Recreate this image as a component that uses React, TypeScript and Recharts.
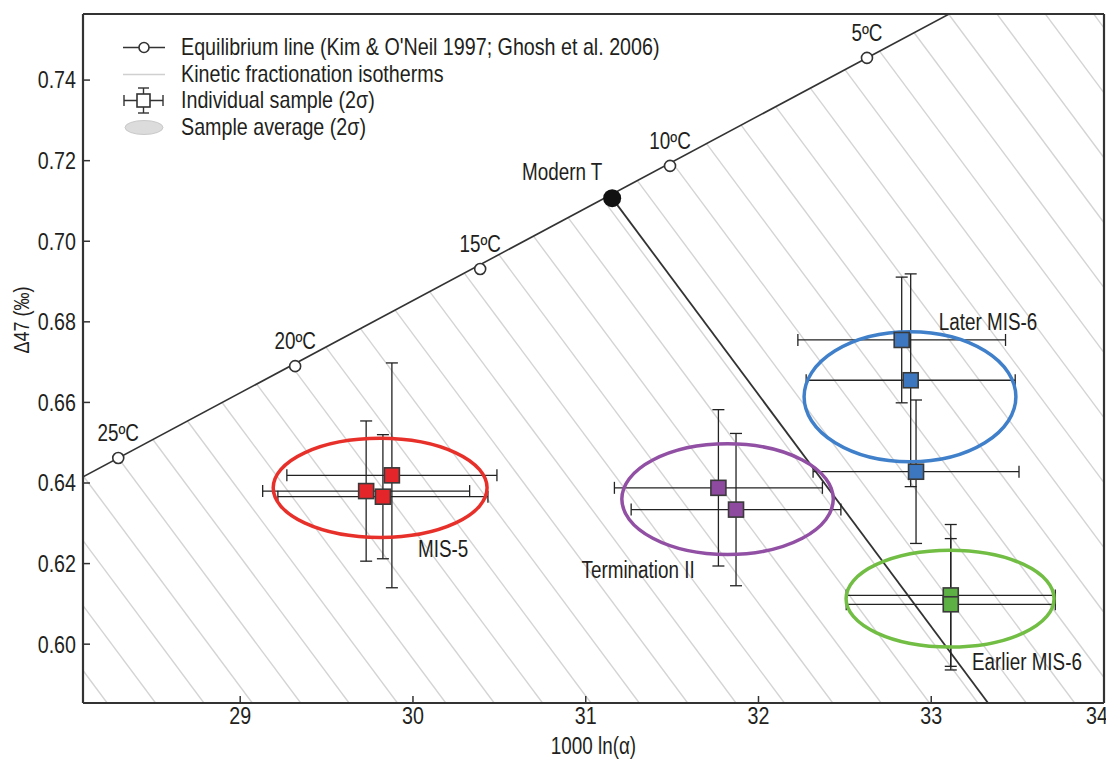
import {
  ComposedChart, Scatter, XAxis, YAxis, ReferenceLine, ErrorBar, Legend,
} from "recharts";

const FONT = '"Liberation Sans", Arial, Helvetica, sans-serif';
const NARROW = 0.82; // the original uses a condensed Helvetica
const INK = "#231f20";

// axis ranges
const X_MIN = 28.09;
const X_MAX = 34.0;
const Y_MIN = 0.5854;
const Y_MAX = 0.7564;

const xTicks = [29, 30, 31, 32, 33, 34];
const yTicks = [0.6, 0.62, 0.64, 0.66, 0.68, 0.7, 0.72, 0.74];

// equilibrium line (Kim & O'Neil 1997; Ghosh et al. 2006)
const equilibriumPoints = [
  { x: 28.294, y: 0.6462, label: "25ºC" },
  { x: 29.318, y: 0.669, label: "20ºC" },
  { x: 30.389, y: 0.6931, label: "15ºC" },
  { x: 31.488, y: 0.7187, label: "10ºC" },
  { x: 32.628, y: 0.7455, label: "5ºC" },
];
const modernT = [{ x: 31.153, y: 0.7107, label: "Modern T" }];
const kineticEnd = { x: 33.329, y: 0.5854 };

// where the grey kinetic isotherms cross the bottom of the frame
const hatchBottomX = [
  28.23, 28.51, 28.79, 29.07, 29.35, 29.63, 29.91, 30.19, 30.47, 30.75, 31.03,
  31.31, 31.59, 31.87, 32.15, 32.43, 32.71, 32.99, 33.27, 33.55, 33.83, 34.11,
  34.39, 34.67, 34.95, 35.23, 35.51, 35.79, 36.07, 36.35, 36.63, 36.91, 37.19,
];

// individual samples, 2 sigma
const mis5 = [
  { x: 29.729, y: 0.638, ex: 0.599, ey: 0.0174 },
  { x: 29.826, y: 0.6366, ex: 0.608, ey: 0.0154 },
  { x: 29.878, y: 0.6419, ex: 0.608, ey: 0.0279 },
];
const terminationII = [
  { x: 31.768, y: 0.6388, ex: 0.602, ey: 0.0194 },
  { x: 31.87, y: 0.6334, ex: 0.607, ey: 0.0189 },
];
const laterMis6 = [
  { x: 32.829, y: 0.6755, ex: 0.601, ey: 0.0156 },
  { x: 32.881, y: 0.6655, ex: 0.605, ey: 0.0264 },
  { x: 32.912, y: 0.6428, ex: 0.596, ey: 0.0178 },
];
const earlierMis6 = [
  { x: 33.113, y: 0.6121, ex: 0.605, ey: 0.0176 },
  { x: 33.113, y: 0.6099, ex: 0.605, ey: 0.0163 },
];

// sample averages, 2 sigma ellipses
const averages = [
  { x: 29.81, y: 0.6388, rx: 0.619, ry: 0.0123, color: "#e8302a" },
  { x: 31.821, y: 0.636, rx: 0.612, ry: 0.01373, color: "#9150a4" },
  { x: 32.877, y: 0.6614, rx: 0.613, ry: 0.01614, color: "#4080ca" },
  { x: 33.109, y: 0.6113, rx: 0.602, ry: 0.012, color: "#72bd44" },
];

const groupLabels = [
  { x: 30.175, y: 0.6236, label: "MIS-5" },
  { x: 31.303, y: 0.6184, label: "Termination II" },
  { x: 33.329, y: 0.6799, label: "Later MIS-6" },
  { x: 33.554, y: 0.5955, label: "Earlier MIS-6" },
];

const sampleSeries = [
  { data: mis5, fill: "#e4262a" },
  { data: terminationII, fill: "#8d4a9e" },
  { data: laterMis6, fill: "#3c77bf" },
  { data: earlierMis6, fill: "#5db043" },
];

const W = 1106;
const H = 752;
const MARGIN = { top: 4, right: 8, bottom: 0, left: 0 };
const Y_AXIS_W = 75;
const X_AXIS_H = 57;
const PLOT_W = W - MARGIN.left - MARGIN.right - Y_AXIS_W - 2;
const PLOT_H = H - MARGIN.top - MARGIN.bottom - X_AXIS_H - 2;
const PX_X = PLOT_W / (X_MAX - X_MIN);
const PX_Y = PLOT_H / (Y_MAX - Y_MIN);

// slopes of the equilibrium line and the kinetic isotherms
const eqA = equilibriumPoints[0];
const eqB = equilibriumPoints[equilibriumPoints.length - 1];
const mEq = (eqB.y - eqA.y) / (eqB.x - eqA.x);
const mKin = (kineticEnd.y - modernT[0].y) / (kineticEnd.x - modernT[0].x);
const eqAt = (x: number) => eqA.y + mEq * (x - eqA.x);

const hatchSegments = hatchBottomX.map((b) => {
  const xi = (Y_MIN - mKin * b - eqA.y + mEq * eqA.x) / (mEq - mKin);
  return [{ x: xi, y: eqAt(xi) }, { x: b, y: Y_MIN }];
});

// condensed-looking svg text
function NText({ x, y, size = 23, anchor = "middle", dy = "0.35em", rotate = 0, children }: any) {
  return (
    <text transform={`translate(${x} ${y}) rotate(${rotate}) scale(${NARROW} 1)`} textAnchor={anchor} dy={dy}
      fontSize={size} fontFamily={FONT} fill={INK}>{children}</text>
  );
}

const XTick = (p: any) => {
  const v = Number(p.payload.value);
  const last = v >= X_MAX - 0.01;
  // the last label sits on the right edge of the page
  return <NText x={last ? p.x + 4 : p.x} y={p.y} size={24} dy="0.71em" anchor={last ? "end" : "middle"}>{v}</NText>;
};
const YTick = (p: any) => (
  <NText x={p.x} y={p.y} size={24} anchor="end">{Number(p.payload.value).toFixed(2)}</NText>
);

const renderSquare = (fill: string) => (p: any) => (
  <rect x={p.cx - 7.5} y={p.cy - 7.5} width={15} height={15} fill={fill} stroke="#3a3a3a" strokeWidth={1.6} />
);

const renderEllipse = (p: any) => (
  <ellipse cx={p.cx} cy={p.cy} rx={p.payload.rx * PX_X} ry={p.payload.ry * PX_Y}
    fill="none" stroke={p.payload.color} strokeWidth={3.5} />
);

const renderEqPoint = (p: any) => (
  <g>
    <circle cx={p.cx} cy={p.cy} r={5.5} fill="#fff" stroke="#333" strokeWidth={1.6} />
    <NText x={p.cx} y={p.cy - 25}>{p.payload.label}</NText>
  </g>
);

const renderModern = (p: any) => (
  <g>
    <circle cx={p.cx} cy={p.cy} r={9} fill="#111" />
    <NText x={p.cx - 50} y={p.cy - 26}>{p.payload.label}</NText>
  </g>
);

const renderGroupLabel = (p: any) => <NText x={p.cx} y={p.cy}>{p.payload.label}</NText>;

function LegendBox() {
  const row = { display: "flex", alignItems: "center", height: 26.7, whiteSpace: "nowrap" as const };
  const txt = { display: "inline-block", transform: `scaleX(${NARROW})`, transformOrigin: "left center" };
  return (
    <div style={{ fontFamily: FONT, fontSize: 24, color: INK, lineHeight: "26.7px" }}>
      <div style={row}>
        <svg width={58} height={27}>
          <line x1={0} x2={42} y1={13.5} y2={13.5} stroke="#333" strokeWidth={1.6} />
          <circle cx={21} cy={13.5} r={5} fill="#fff" stroke="#333" strokeWidth={1.6} />
        </svg>
        <span style={txt}>Equilibrium line (Kim &amp; O'Neil 1997; Ghosh et al. 2006)</span>
      </div>
      <div style={row}>
        <svg width={58} height={27}>
          <line x1={0} x2={42} y1={13.5} y2={13.5} stroke="#d0d0d0" strokeWidth={1.6} />
        </svg>
        <span style={txt}>Kinetic fractionation isotherms</span>
      </div>
      <div style={row}>
        <svg width={58} height={27}>
          <line x1={1} x2={40} y1={13.5} y2={13.5} stroke="#333" strokeWidth={1.4} />
          <line x1={1} x2={1} y1={8} y2={19} stroke="#333" strokeWidth={1.4} />
          <line x1={40} x2={40} y1={8} y2={19} stroke="#333" strokeWidth={1.4} />
          <line x1={20.5} x2={20.5} y1={1} y2={26} stroke="#333" strokeWidth={1.4} />
          <line x1={15} x2={26} y1={1} y2={1} stroke="#333" strokeWidth={1.4} />
          <line x1={15} x2={26} y1={26} y2={26} stroke="#333" strokeWidth={1.4} />
          <rect x={14} y={7} width={13} height={13} fill="#fff" stroke="#333" strokeWidth={1.6} />
        </svg>
        <span style={txt}>Individual sample (2σ)</span>
      </div>
      <div style={row}>
        <svg width={58} height={27}>
          <ellipse cx={21} cy={13.5} rx={19} ry={7} fill="#dcdcdc" stroke="#c9c9c9" strokeWidth={1} />
        </svg>
        <span style={txt}>Sample average (2σ)</span>
      </div>
    </div>
  );
}

export default function App() {
  return (
    <div style={{ background: "#fff" }}>
      <ComposedChart width={W} height={H} margin={MARGIN}>
        <XAxis type="number" dataKey="x" domain={[X_MIN, X_MAX]} ticks={xTicks} allowDataOverflow
          height={X_AXIS_H} tickSize={-7} tickMargin={11} tick={XTick}
          axisLine={{ stroke: "#333", strokeWidth: 2.2 }} tickLine={{ stroke: "#333", strokeWidth: 1.5 }}
          label={(props: any) => {
            const vb = props.viewBox;
            return <NText x={vb.x + vb.width / 2} y={vb.y + 43} size={23}>1000 ln(α)</NText>;
          }} />
        <XAxis xAxisId="top" orientation="top" type="number" dataKey="x" domain={[X_MIN, X_MAX]} ticks={xTicks}
          allowDataOverflow height={2} tickSize={-7} tick={false}
          axisLine={{ stroke: "#333", strokeWidth: 2.2 }} tickLine={{ stroke: "#333", strokeWidth: 1.5 }} />
        <YAxis type="number" dataKey="y" domain={[Y_MIN, Y_MAX]} ticks={yTicks} allowDataOverflow
          width={Y_AXIS_W} tickSize={-7} tickMargin={14} tick={YTick}
          axisLine={{ stroke: "#333", strokeWidth: 2.2 }} tickLine={{ stroke: "#333", strokeWidth: 1.5 }}
          label={(props: any) => {
            const vb = props.viewBox;
            return <NText x={vb.x + 13} y={312} size={22} rotate={-90}>Δ47 (‰)</NText>;
          }} />
        <YAxis yAxisId="right" orientation="right" type="number" dataKey="y" domain={[Y_MIN, Y_MAX]} ticks={yTicks}
          allowDataOverflow width={2} tickSize={-7} tick={false}
          axisLine={{ stroke: "#333", strokeWidth: 2.2 }} tickLine={{ stroke: "#333", strokeWidth: 1.5 }} />

        {hatchSegments.map((seg, i) => (
          <ReferenceLine key={`h${i}`} segment={seg} stroke="#d4d4d4" strokeWidth={1.4} ifOverflow="hidden" />
        ))}
        <ReferenceLine segment={[{ x: 27.5, y: eqAt(27.5) }, { x: 34.5, y: eqAt(34.5) }]}
          stroke="#333" strokeWidth={1.6} ifOverflow="hidden" />
        <ReferenceLine segment={[{ x: modernT[0].x, y: modernT[0].y }, kineticEnd]}
          stroke="#333" strokeWidth={1.8} ifOverflow="hidden" />

        <Scatter data={averages} shape={renderEllipse} isAnimationActive={false} />

        {sampleSeries.map((s, i) => (
          <Scatter key={`s${i}`} data={s.data} shape={renderSquare(s.fill)} isAnimationActive={false}>
            <ErrorBar dataKey="ex" direction="x" width={6} stroke="#222" strokeWidth={1.3} isAnimationActive={false} />
            <ErrorBar dataKey="ey" direction="y" width={6} stroke="#222" strokeWidth={1.3} isAnimationActive={false} />
          </Scatter>
        ))}

        <Scatter data={equilibriumPoints} shape={renderEqPoint} isAnimationActive={false} />
        <Scatter data={modernT} shape={renderModern} isAnimationActive={false} />
        <Scatter data={groupLabels} shape={renderGroupLabel} isAnimationActive={false} />

        <Legend verticalAlign="middle" layout="horizontal" align="center"
          wrapperStyle={{ top: 26, left: 115, width: "auto", height: "auto" }}
          content={() => <LegendBox />} />
      </ComposedChart>
    </div>
  );
}
